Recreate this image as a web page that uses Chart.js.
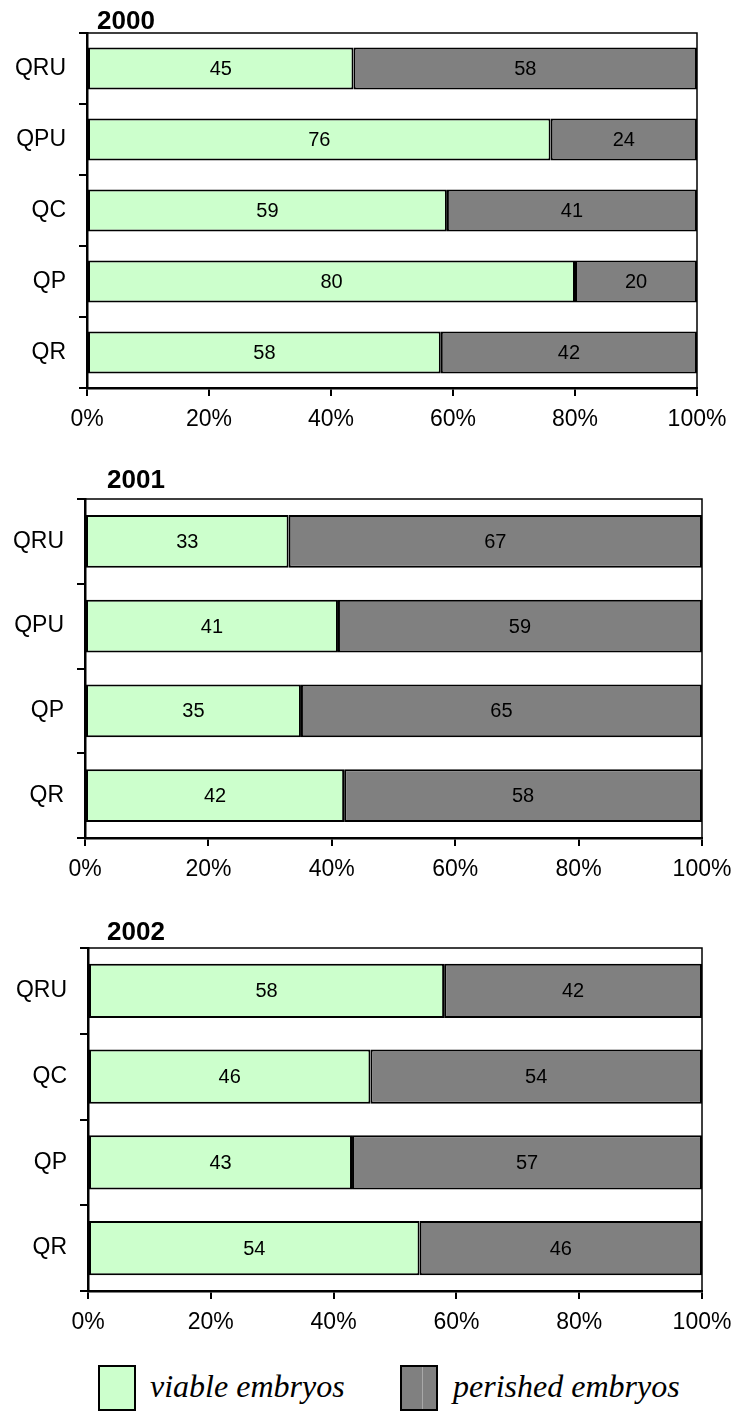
<!DOCTYPE html>
<html>
<head>
<meta charset="utf-8">
<script src="https://cdn.jsdelivr.net/npm/chart.js@4"></script>
<style>
  body { margin: 0; background: #fff; }
  #page { position: relative; width: 733px; height: 1420px; }
  canvas { position: absolute; left: 0; }
  .lbox { position: absolute; top: 1365px; width: 34px; height: 42px; border: 2px solid #000; }
  .ltext { position: absolute; top: 1362px; font: italic 32px "Liberation Serif", "Times New Roman", serif; color: #000; line-height: 48px; }
</style>
</head>
<body>
<div id="page">
  <canvas id="c2000" width="733" height="450" style="top:0px"></canvas>
  <canvas id="c2001" width="733" height="450" style="top:450px"></canvas>
  <canvas id="c2002" width="733" height="450" style="top:900px"></canvas>

  <div class="lbox" style="left:98px;background:#ccffcc"></div>
  <div class="ltext" style="left:150px">viable embryos</div>
  <div class="lbox" style="left:400px;background:#808080">
    <div style="position:absolute;left:20px;top:0;width:1px;height:100%;background:#a8a8a8"></div>
  </div>
  <div class="ltext" style="left:453px">perished embryos</div>
</div>

<script>
// dados de cada ano (valores brutos, o gráfico normaliza para 100%)
const categories2000 = ["QRU", "QPU", "QC", "QP", "QR"];
const viable2000 = [45, 76, 59, 80, 58];
const perished2000 = [58, 24, 41, 20, 42];

const categories2001 = ["QRU", "QPU", "QP", "QR"];
const viable2001 = [33, 41, 35, 42];
const perished2001 = [67, 59, 65, 58];

const categories2002 = ["QRU", "QC", "QP", "QR"];
const viable2002 = [58, 46, 43, 54];
const perished2002 = [42, 54, 57, 46];

const xTicks = [0, 20, 40, 60, 80, 100];

const GREEN = "#ccffcc";
const GRAY = "#808080";
const SANS = '"Liberation Sans", Arial, sans-serif';

// moldura superior/direita, título e rótulos dos valores
const framePlugin = {
    id: "frame",
    afterDatasetsDraw(chart, args, opts) {
        const ctx = chart.ctx;
        const a = chart.chartArea;
        ctx.save();
        ctx.strokeStyle = "#000";
        ctx.lineWidth = 1.5;
        ctx.beginPath();
        ctx.moveTo(a.left, a.top);
        ctx.lineTo(a.right, a.top);
        ctx.lineTo(a.right, a.bottom);
        ctx.stroke();

        // valores no meio de cada segmento
        ctx.fillStyle = "#000";
        ctx.font = "20px " + SANS;
        ctx.textAlign = "center";
        ctx.textBaseline = "middle";
        chart.data.datasets.forEach((ds, i) => {
            const meta = chart.getDatasetMeta(i);
            meta.data.forEach((bar, j) => {
                const x = (bar.x + bar.base) / 2;
                ctx.fillText(String(ds.raw[j]), x, bar.y + 1);
            });
        });

        // título
        ctx.font = "bold 26px " + SANS;
        ctx.textAlign = "left";
        ctx.textBaseline = "alphabetic";
        ctx.fillText(opts.text, a.left + opts.dx, a.top - opts.dy);
        ctx.restore();
    },
};

function makeChart(id, title, labels, viable, perished, area, barPct) {
    const canvas = document.getElementById(id);
    const h = canvas.height;
    const pct = (arr, other) => arr.map((v, i) => (v / (v + other[i])) * 100);

    return new Chart(canvas, {
        type: "bar",
        data: {
            labels: labels,
            datasets: [
                {
                    label: "viable embryos",
                    data: pct(viable, perished),
                    raw: viable,
                    backgroundColor: GREEN,
                },
                {
                    label: "perished embryos",
                    data: pct(perished, viable),
                    raw: perished,
                    backgroundColor: GRAY,
                },
            ],
        },
        options: {
            indexAxis: "y",
            responsive: false,
            animation: false,
            devicePixelRatio: 1,
            layout: { padding: { top: area.top, right: 733 - area.right, left: 0, bottom: 0 } },
            datasets: {
                bar: {
                    borderColor: "#000",
                    borderWidth: 2,
                    borderSkipped: false,
                    categoryPercentage: 1,
                    barPercentage: barPct,
                },
            },
            plugins: {
                legend: { display: false },
                tooltip: { enabled: false },
                frame: { text: title, dx: area.dx, dy: area.dy },
            },
            scales: {
                x: {
                    stacked: true,
                    min: 0,
                    max: 100,
                    afterBuildTicks: (s) => { s.ticks = xTicks.map((v) => ({ value: v })); },
                    afterFit: (s) => {
                        s.height = h - area.bottom;
                        s.paddingLeft = 0;
                        s.paddingRight = 0;
                    },
                    grid: { drawOnChartArea: false, color: "#000", lineWidth: 2, tickLength: 8 },
                    border: { color: "#000", width: 2.5 },
                    ticks: {
                        color: "#000",
                        font: { family: SANS, size: 23 },
                        padding: 10,
                        maxRotation: 0,
                        callback: (v) => v + "%",
                    },
                },
                y: {
                    stacked: true,
                    afterFit: (s) => {
                        s.width = area.left;
                        s.paddingTop = 0;
                        s.paddingBottom = 0;
                    },
                    grid: { offset: true, drawOnChartArea: false, color: "#000", lineWidth: 2, tickLength: 8 },
                    border: { color: "#000", width: 2.5 },
                    ticks: {
                        color: "#000",
                        font: { family: SANS, size: 23 },
                        padding: 13,
                    },
                },
            },
        },
        plugins: [framePlugin],
    });
}

// áreas de plotagem (coordenadas dentro de cada canvas)
makeChart("c2000", "2000", categories2000, viable2000, perished2000,
    { left: 87, right: 697, top: 33, bottom: 388, dx: 10, dy: 4 }, 0.59);
makeChart("c2001", "2001", categories2001, viable2001, perished2001,
    { left: 85, right: 702, top: 49, bottom: 388, dx: 22, dy: 11 }, 0.625);
makeChart("c2002", "2002", categories2002, viable2002, perished2002,
    { left: 88, right: 702, top: 48, bottom: 391, dx: 19, dy: 8 }, 0.63);
</script>
</body>
</html>
